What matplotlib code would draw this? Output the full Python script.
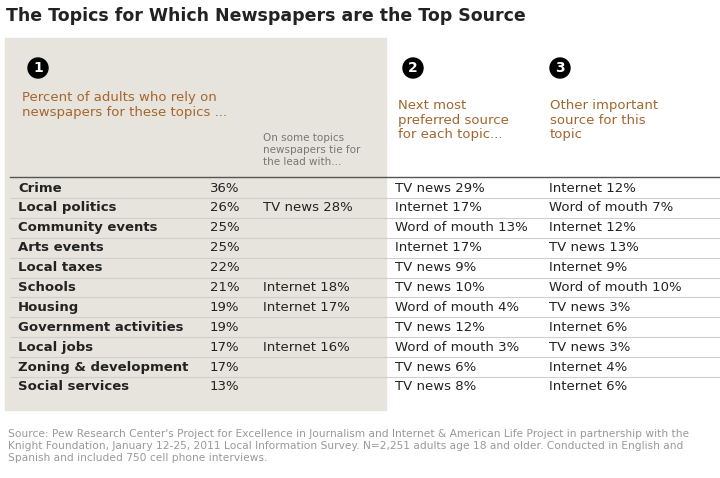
import matplotlib
matplotlib.use("Agg")
import matplotlib.pyplot as plt
from matplotlib.patches import Rectangle, Circle

topics = ["Crime","Local politics","Community events","Arts events","Local taxes","Schools",
          "Housing","Government activities","Local jobs","Zoning & development","Social services"]
percents = [36,26,25,25,22,21,19,19,17,17,13]
ties = ["","TV news 28%","","","","Internet 18%","Internet 17%","","Internet 16%","",""]
next_src = ["TV news 29%","Internet 17%","Word of mouth 13%","Internet 17%","TV news 9%","TV news 10%",
            "Word of mouth 4%","TV news 12%","Word of mouth 3%","TV news 6%","TV news 8%"]
other_src = ["Internet 12%","Word of mouth 7%","Internet 12%","TV news 13%","Internet 9%","Word of mouth 10%",
             "TV news 3%","Internet 6%","TV news 3%","Internet 4%","Internet 6%"]

W, H = 720, 478
fig = plt.figure(figsize=(W/100, H/100), dpi=100)
ax = fig.add_axes([0, 0, 1, 1])
ax.set_xlim(0, W); ax.set_ylim(H, 0); ax.axis("off")

ax.text(6, 16, "The Topics for Which Newspapers are the Top Source", fontsize=12.5,
        fontweight="bold", color="#222222", va="center")
ax.add_patch(Rectangle((5, 38), 381, 372, color="#e6e4dc", zorder=0))

brown = "#a5652e"
for cx, n in [(38, "1"), (413, "2"), (560, "3")]:
    ax.add_patch(Circle((cx, 68), 10, color="black", zorder=2))
    ax.text(cx, 68, n, color="white", fontsize=10, fontweight="bold", ha="center", va="center", zorder=3)

ax.text(22, 105, "Percent of adults who rely on\nnewspapers for these topics ...", color=brown,
        fontsize=9.5, va="center", linespacing=1.2)
ax.text(263, 150, "On some topics\nnewspapers tie for\nthe lead with...", color="#777777",
        fontsize=7.5, va="center", linespacing=1.2)
ax.text(398, 120, "Next most\npreferred source\nfor each topic...", color=brown,
        fontsize=9.5, va="center", linespacing=1.15)
ax.text(550, 120, "Other important\nsource for this\ntopic", color=brown,
        fontsize=9.5, va="center", linespacing=1.15)

y0, dy = 188, 19.9
ax.plot([10, 720], [y0 - dy/2 - 1, y0 - dy/2 - 1], color="#555555", lw=1)
for i, t in enumerate(topics):
    y = y0 + i*dy
    ax.text(18, y, t, fontsize=9.5, fontweight="bold", color="#222222", va="center")
    ax.text(210, y, f"{percents[i]}%", fontsize=9.5, color="#222222", va="center")
    ax.text(263, y, ties[i], fontsize=9.5, color="#222222", va="center")
    ax.text(395, y, next_src[i], fontsize=9.5, color="#222222", va="center")
    ax.text(549, y, other_src[i], fontsize=9.5, color="#222222", va="center")
    if i < len(topics) - 1:
        ax.plot([10, 720], [y + dy/2, y + dy/2], color="#cfcfcf", lw=0.8)

ax.text(8, 446, "Source: Pew Research Center's Project for Excellence in Journalism and Internet & American Life Project in partnership with the\n"
        "Knight Foundation, January 12-25, 2011 Local Information Survey. N=2,251 adults age 18 and older. Conducted in English and\n"
        "Spanish and included 750 cell phone interviews.", fontsize=7.7, color="#999999", va="center", linespacing=1.25)

fig.savefig("out.png", dpi=100)
